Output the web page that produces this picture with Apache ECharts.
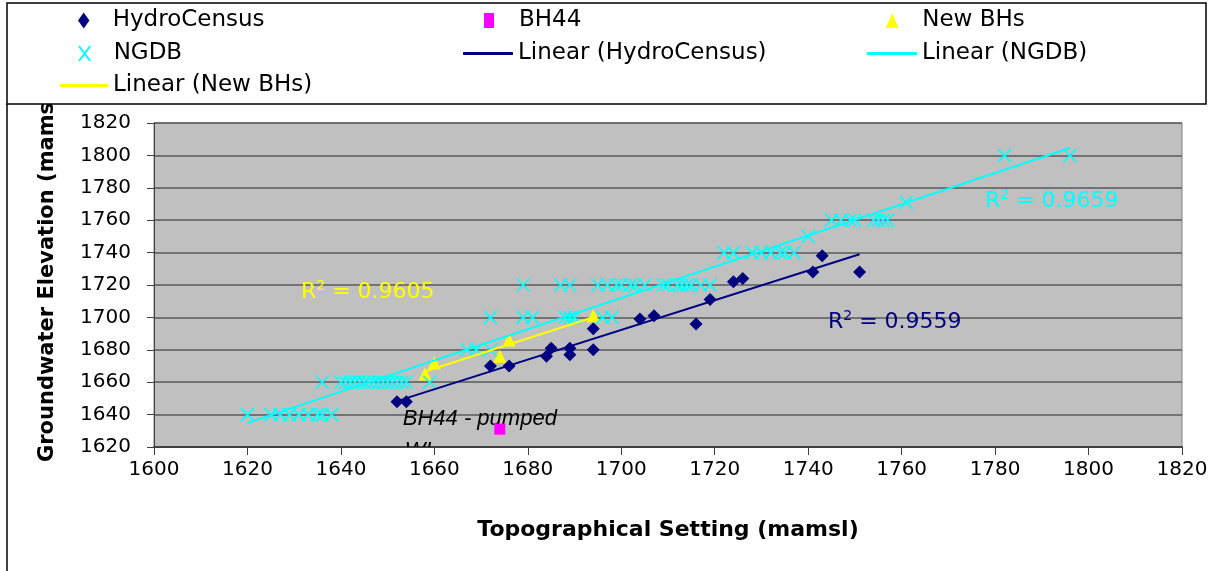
<!DOCTYPE html>
<html><head><meta charset="utf-8">
<script src="https://cdn.jsdelivr.net/npm/echarts@6/dist/echarts.min.js"></script>
<style>html,body{margin:0;padding:0;background:#fff}#c{width:1216px;height:571px}</style>
</head><body><div id="c"></div>
<script>
// ---- data (Topographical Setting, Groundwater Elevation) ----
const hydroCensus = [[1652,1648],[1654,1648],[1672,1670],[1676,1670],[1684,1676],[1685,1681],[1689,1681],[1689,1677],[1694,1693],[1694,1680],[1704,1699],[1707,1701],[1716,1696],[1719,1711],[1724,1722],[1726,1724],[1741,1728],[1743,1738],[1751,1728]];
const bh44 = [[1674,1631]];
const newBHs = [[1658,1665],[1660,1672],[1674,1676],[1676,1686],[1694,1701]];
const ngdb = [
  [1620,1640],[1625,1640],[1627,1640],[1629,1640],[1631,1640],[1633,1640],[1635,1640],[1636,1640],[1638,1640],
  [1636,1660],[1640,1660],[1641,1660],[1642,1660],[1643,1660],[1644,1660],[1645,1660],[1646,1660],[1647,1660],[1648,1660],[1649,1660],[1650,1660],[1651,1660],[1652,1660],[1653,1660],[1654,1660],[1659,1660],
  [1667,1680],[1669,1680],[1672,1680],
  [1672,1700],[1679,1700],[1681,1700],[1688,1700],[1689,1700],[1690,1700],[1696,1700],[1698,1700],
  [1679,1720],[1687,1720],[1689,1720],[1695,1720],[1697,1720],[1699,1720],[1700,1720],[1702,1720],[1703,1720],[1705,1720],[1709,1720],[1710,1720],[1712,1720],[1713,1720],[1714,1720],[1715,1720],[1717,1720],[1719,1720],
  [1722,1740],[1724,1740],[1728,1740],[1730,1740],[1732,1740],[1734,1740],[1735,1740],[1737,1740],
  [1740,1750],
  [1745,1760],[1747,1760],[1749,1760],[1750,1760],[1754,1760],[1755,1760],[1756,1760],[1757,1760],
  [1761,1771],
  [1782,1800],[1796,1800]
];
const xTickValues = [1600,1620,1640,1660,1680,1700,1720,1740,1760,1780,1800,1820];
const yTickValues = [1620,1640,1660,1680,1700,1720,1740,1760,1780,1800,1820];
const r2Values = {hydro:'0.9559', ngdb:'0.9659', newBHs:'0.9605'};
const bhNote = ['BH44 - pumped', 'WL'];

// linear trendline over data range
function trend(d){
  const n=d.length; let sx=0,sy=0,sxx=0,sxy=0,mn=Infinity,mx=-Infinity;
  d.forEach(p=>{sx+=p[0];sy+=p[1];sxx+=p[0]*p[0];sxy+=p[0]*p[1];mn=Math.min(mn,p[0]);mx=Math.max(mx,p[0]);});
  const b=(n*sxy-sx*sy)/(n*sxx-sx*sx), a=(sy-b*sx)/n;
  return [[mn,a+b*mn],[mx,a+b*mx]];
}

const NAVY='#000080', CYAN='#00FFFF', YEL='#FFFF00', MAG='#FF00FF';
const xIcon='path://M0,0L9,12M9,0L0,12';
const lineIcon='path://M0,0H50V3H0Z';
const FONT='DejaVu Sans';

const legendBase = {padding:0, itemHeight:14, z:20, selectedMode:false, symbolKeepAspect:true,
  textStyle:{fontFamily:FONT, fontSize:23, color:'#000'}};
function lg(o){ return Object.assign({}, legendBase, o); }

function r2Text(x,y,val,color){
  return {type:'text', x:x, y:y, z:3, style:{
    text:'{a|R}{b|2}{a| = '+val+'}', verticalAlign:'middle', align:'left',
    rich:{a:{fontFamily:FONT, fontSize:22, fill:color, color:color, lineHeight:26},
          b:{fontFamily:FONT, fontSize:14, fill:color, color:color, lineHeight:26, verticalAlign:'top'}}
  }};
}
const plainFmt = v => String(v);

const chart = echarts.init(document.getElementById('c'), null, {renderer:'canvas'});
chart.setOption({
  animation:false,
  backgroundColor:'#fff',
  grid:{left:154, top:123, width:1028, height:324, show:true, backgroundColor:'#C0C0C0', borderColor:'#808080', borderWidth:1},
  xAxis:{type:'value', min:xTickValues[0], max:xTickValues[xTickValues.length-1], interval:20,
    name:'Topographical Setting (mamsl)', nameLocation:'middle', nameGap:72,
    nameTextStyle:{fontFamily:FONT, fontWeight:'bold', fontSize:22, color:'#000'},
    axisLine:{show:true, lineStyle:{color:'#404040', width:2}},
    axisTick:{show:true, length:8, lineStyle:{color:'#404040'}},
    axisLabel:{fontFamily:FONT, fontSize:20, color:'#000', margin:13, formatter:plainFmt},
    splitLine:{show:false}},
  yAxis:{type:'value', min:yTickValues[0], max:yTickValues[yTickValues.length-1], interval:20,
    axisLine:{show:true, lineStyle:{color:'#404040', width:1}},
    axisTick:{show:true, length:7, lineStyle:{color:'#404040'}},
    axisLabel:{fontFamily:FONT, fontSize:20, color:'#000', margin:23, formatter:plainFmt},
    splitLine:{show:true, lineStyle:{color:'#5a5a5a', width:1.5}}},
  legend:[
    lg({data:[{name:'HydroCensus', icon:'path://M5,0L10,7L5,14L0,7Z'}], left:78, top:9, itemWidth:48, itemHeight:16}),
    lg({data:[{name:'BH44', icon:'path://M0,0L8,0L8,12L0,12Z'}], left:484, top:9, itemWidth:50, itemHeight:15}),
    lg({data:[{name:'New BHs', icon:'path://M5,0L10,12L0,12Z'}], left:886, top:9, itemWidth:50, itemHeight:15}),
    lg({data:[{name:'NGDB', icon:xIcon}], left:78, top:42, itemWidth:48, itemHeight:15}),
    lg({data:[{name:'Linear (HydroCensus)', icon:lineIcon}], left:463, top:42, itemWidth:50}),
    lg({data:[{name:'Linear (NGDB)', icon:lineIcon}], left:867, top:42, itemWidth:50}),
    lg({data:[{name:'Linear (New BHs)', icon:lineIcon}], left:60, top:74, itemWidth:48})
  ],
  graphic:[
    {type:'text', x:48, y:462, rotation:Math.PI/2, z:1, style:{text:'Groundwater Elevation (mamsl)', font:'bold 21px "DejaVu Sans"', fill:'#000', align:'left', verticalAlign:'middle'}},
    {type:'rect', z:10, shape:{x:7, y:3, width:1199, height:101}, style:{fill:'#fff', stroke:'#000', lineWidth:1.5}},
    {type:'line', z:10, shape:{x1:7, y1:104, x2:7, y2:571}, style:{stroke:'#000', lineWidth:1.5}},
    r2Text(301, 292, r2Values.newBHs, YEL),
    r2Text(828, 322, r2Values.hydro, NAVY),
    r2Text(985, 201, r2Values.ngdb, CYAN)
  ],
  series:[
    {type:'custom', name:'BH44 note', data:bh44, clip:true, z:1, silent:true,
     renderItem:function(params, api){
       const p = api.coord([api.value(0), api.value(1)]);
       return {type:'group', children:[
         {type:'text', x:p[0]-97, y:p[1]-10, style:{text:bhNote[0], font:'italic 22px "Liberation Sans"', fill:'#000', align:'left', verticalAlign:'middle'}},
         {type:'text', x:p[0]-95, y:p[1]+22, style:{text:bhNote[1], font:'italic 22px "Liberation Sans"', fill:'#000', align:'left', verticalAlign:'middle'}}
       ]};
     }},
    {type:'scatter', name:'HydroCensus', data:hydroCensus, symbol:'diamond', symbolSize:13, itemStyle:{color:NAVY, opacity:1}, z:3},
    {type:'scatter', name:'BH44', data:bh44, symbol:'rect', symbolSize:11, itemStyle:{color:MAG, opacity:1}, z:3},
    {type:'scatter', name:'New BHs', data:newBHs, symbol:'triangle', symbolSize:13, itemStyle:{color:YEL, opacity:1}, z:3},
    {type:'scatter', name:'NGDB', data:ngdb, symbol:xIcon, symbolSize:13, itemStyle:{color:CYAN, borderColor:CYAN, borderWidth:1.6, opacity:1}, z:3},
    {type:'line', name:'Linear (HydroCensus)', data:trend(hydroCensus), symbol:'none', showSymbol:false, itemStyle:{color:NAVY}, lineStyle:{color:NAVY, width:2}, z:4},
    {type:'line', name:'Linear (NGDB)', data:trend(ngdb), symbol:'none', showSymbol:false, itemStyle:{color:CYAN}, lineStyle:{color:CYAN, width:2}, z:4},
    {type:'line', name:'Linear (New BHs)', data:trend(newBHs), symbol:'none', showSymbol:false, itemStyle:{color:YEL}, lineStyle:{color:YEL, width:2}, z:4}
  ]
});
</script>
</body></html>
